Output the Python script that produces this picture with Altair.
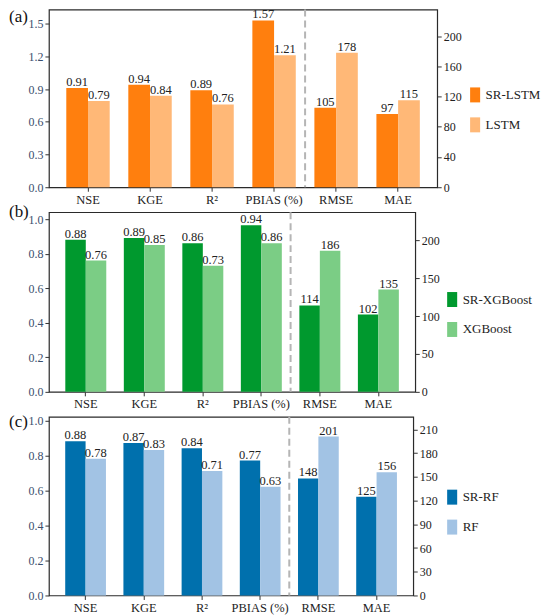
import altair as alt
import pandas as pd

metrics = ["NSE", "KGE", "R²", "PBIAS (%)", "RMSE", "MAE"]
left_metrics = ["NSE", "KGE", "R²", "PBIAS (%)"]
right_metrics = ["RMSE", "MAE"]

# panel (a): printed labels and drawn bar heights
a_models = ["SR-LSTM", "LSTM"]
a_sr_lab = ["0.91", "0.94", "0.89", "1.57", "105", "97"]
a_sr = [0.91, 0.94, 0.89, 1.53, 105, 97]
a_base_lab = ["0.79", "0.84", "0.76", "1.21", "178", "115"]
a_base = [0.79, 0.84, 0.76, 1.21, 178, 115]
a_colors = ["#FF7F0E", "#FFB877"]

# panel (b)
b_models = ["SR-XGBoost", "XGBoost"]
b_sr_lab = ["0.88", "0.89", "0.86", "0.94", "114", "102"]
b_sr = [0.88, 0.89, 0.86, 0.965, 114, 102]
b_base_lab = ["0.76", "0.85", "0.73", "0.86", "186", "135"]
b_base = [0.76, 0.85, 0.73, 0.86, 186, 135]
b_colors = ["#00992E", "#7BCD85"]

# panel (c)
c_models = ["SR-RF", "RF"]
c_sr_lab = ["0.88", "0.87", "0.84", "0.77", "148", "125"]
c_sr = [0.88, 0.87, 0.84, 0.77, 148, 125]
c_base_lab = ["0.78", "0.83", "0.71", "0.63", "201", "156"]
c_base = [0.78, 0.83, 0.71, 0.62, 201, 156]
c_colors = ["#0070AD", "#A2C3E4"]

FONT = "Liberation Serif, Times New Roman, serif"
PI = 0.3
PO = 0.28


def panel(tag, models, sr, sr_lab, base, base_lab, colors, ldom, lticks, rdom, rticks,
          width, height, legx, legy, tagx, tagy):
    rows = []
    for i, m in enumerate(metrics):
        rows.append({"metric": m, "model": models[0], "value": sr[i], "label": sr_lab[i]})
        rows.append({"metric": m, "model": models[1], "value": base[i], "label": base_lab[i]})
    df = pd.DataFrame(rows)

    xenc = alt.X("metric:N", sort=metrics,
                 scale=alt.Scale(domain=metrics, paddingInner=PI, paddingOuter=PO),
                 axis=alt.Axis(title=None, labelAngle=0, labelFont=FONT, labelFontSize=12.5,
                               labelColor="#222", domain=False, tickColor="#333",
                               tickSize=4, labelPadding=2, labelOverlap=False))
    xoff = alt.XOffset("model:N", sort=models, scale=alt.Scale(domain=models, paddingInner=0, paddingOuter=0))
    cenc = alt.Color("model:N", sort=models,
                     scale=alt.Scale(domain=models, range=colors),
                     legend=alt.Legend(title=None, orient="none", legendX=legx, legendY=legy,
                                       symbolType="M-0.67,-1L0.67,-1L0.67,1L-0.67,1Z",
                                       symbolSize=225, symbolStrokeWidth=0, symbolOpacity=1,
                                       labelFont=FONT, labelFontSize=13, labelColor="#222",
                                       rowPadding=15, labelOffset=3))

    basech = alt.Chart(df).encode(x=xenc, xOffset=xoff)

    lsrc = basech.transform_filter(alt.FieldOneOfPredicate(field="metric", oneOf=left_metrics))
    rsrc = basech.transform_filter(alt.FieldOneOfPredicate(field="metric", oneOf=right_metrics))

    laxis = alt.Axis(orient="left", title=None, values=lticks, format=".1f",
                     labelFont=FONT, labelFontSize=12, labelColor="#3A4E6E",
                     grid=False, domain=False, tickColor="#333", tickSize=4,
                     labelPadding=2, labelOverlap=False)
    raxis = alt.Axis(orient="right", title=None, values=rticks, format="d",
                     labelFont=FONT, labelFontSize=12, labelColor="#222",
                     grid=False, domain=False, tickColor="#333", tickSize=4,
                     labelPadding=2, labelOverlap=False)
    lscale = alt.Scale(domain=ldom, nice=False, zero=True)
    rscale = alt.Scale(domain=rdom, nice=False, zero=True)

    lbars = lsrc.mark_bar().encode(y=alt.Y("value:Q", scale=lscale, axis=laxis), color=cenc)
    ltext = lsrc.mark_text(font=FONT, fontSize=12.5, color="#222", baseline="alphabetic", dy=-2).encode(
        y=alt.Y("value:Q", scale=lscale, axis=laxis), text="label:N")
    rbars = rsrc.mark_bar().encode(y=alt.Y("value:Q", scale=rscale, axis=raxis), color=cenc)
    rtext = rsrc.mark_text(font=FONT, fontSize=12.5, color="#222", baseline="alphabetic", dy=-2).encode(
        y=alt.Y("value:Q", scale=rscale, axis=raxis), text="label:N")

    step = width / (len(metrics) - PI + 2 * PO)
    rule_df = pd.DataFrame({"metric": ["RMSE"]})
    rule = alt.Chart(rule_df).mark_rule(color="#B5B5B5", strokeWidth=2, strokeDash=[7, 4],
                                        xOffset=-PI * step / 2).encode(
        x=alt.X("metric:N", bandPosition=0))

    tag_df = pd.DataFrame({"t": [tag]})
    tagm = alt.Chart(tag_df).mark_text(font=FONT, fontSize=17, color="#111", align="left",
                                       baseline="middle").encode(
        text="t:N", x=alt.value(tagx), y=alt.value(tagy))

    left = alt.layer(lbars, ltext)
    right = alt.layer(rbars, rtext)
    ch = alt.layer(left, right, rule, tagm).resolve_scale(y="independent").properties(
        width=width, height=height)
    return ch


pa = panel("(a)", a_models, a_sr, a_sr_lab, a_base, a_base_lab, a_colors,
           [0, 1.63], [0.0, 0.3, 0.6, 0.9, 1.2, 1.5],
           [0, 235], [0, 40, 80, 120, 160, 200], 389, 178, 419.5, 78, -40, 7)
pb = panel("(b)", b_models, b_sr, b_sr_lab, b_base, b_base_lab, b_colors,
           [0, 1.04], [0.0, 0.2, 0.4, 0.6, 0.8, 1.0],
           [0, 237], [0, 50, 100, 150, 200], 367, 180, 396.5, 80, -40, 0)
pc = panel("(c)", c_models, c_sr, c_sr_lab, c_base, c_base_lab, c_colors,
           [0, 1.02], [0.0, 0.2, 0.4, 0.6, 0.8, 1.0],
           [0, 226], [0, 30, 60, 90, 120, 150, 180, 210], 365, 179, 396.5, 73, -40, 5)

chart = alt.vconcat(pa, pb, pc, spacing=25, bounds="flush").resolve_scale(
    color="independent", x="independent", xOffset="independent"
).configure(
    background="white", padding={"left": 0, "top": -2, "right": 0, "bottom": 0}
).configure_view(stroke="#2A2A2A", strokeWidth=1.2)

chart.save("out.html", embed_options={"renderer": "svg", "actions": False})
